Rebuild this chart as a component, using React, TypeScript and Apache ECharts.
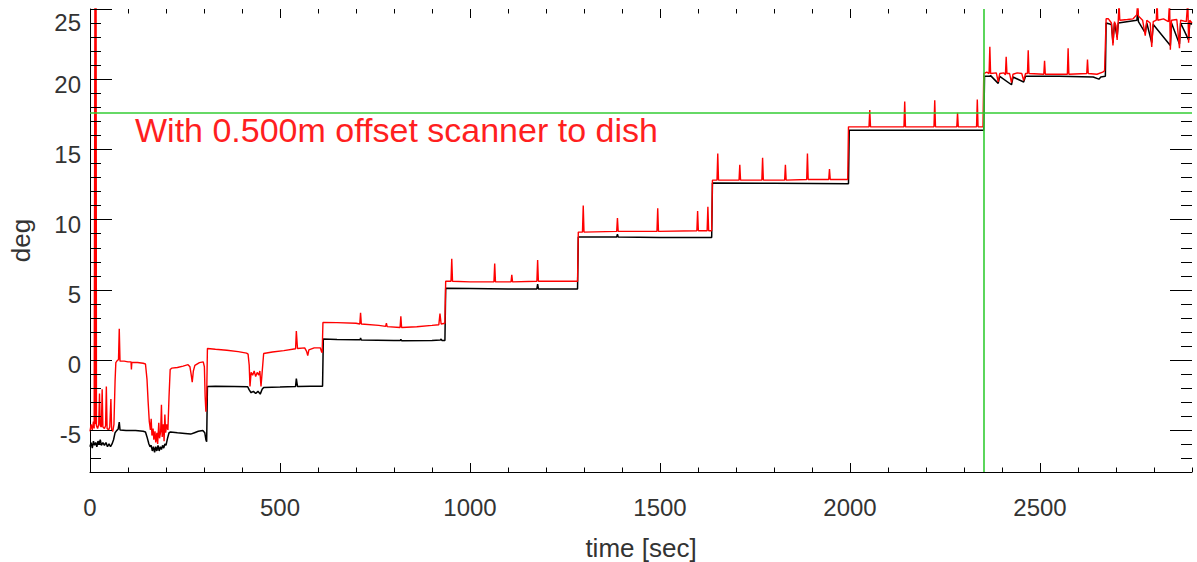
import React, { useEffect, useRef } from 'react';
import * as echarts from 'echarts';

// ---- axis setup ----
const X_MIN = 0;
const X_MAX = 2900;
const Y_MIN = -8;
const Y_MAX = 25;
const xMajorTicks = [0, 500, 1000, 1500, 2000, 2500];
const xMinorStep = 100;
const yMajorTicks = [-5, 0, 5, 10, 15, 20, 25];
const yMinorStep = 1;
const xTitle = 'time [sec]';
const yTitle = 'deg';
const annotation = 'With 0.500m offset scanner to dish';

// ---- reference (green) lines ----
const refDeg = 17.57;
const refTime = 2353;

// ---- black trace [time sec, deg] ----
const blackData: [number, number][] = [
  [0, -6.2], [3, -5.9], [6, -6.3], [9, -5.8], [12, -6.1], [15, -5.9], [18, -6.2], [21, -5.8], [24, -6.0], [27, -5.7],
  [30, -6.1], [34, -5.9], [38, -6.1], [42, -5.9], [46, -6.2], [50, -6.0], [54, -6.2], [58, -6.0], [62, -5.7], [66, -5.2],
  [70, -5.05], [74, -4.95], [77, -4.45], [79, -5.0], [95, -5.05], [120, -5.05], [140, -5.1], [146, -5.15], [150, -5.5],
  [155, -6.0], [158, -6.2], [161, -6.1], [164, -6.5], [167, -6.2], [170, -6.6], [173, -6.2], [176, -6.5], [179, -6.1],
  [182, -6.5], [185, -6.2], [188, -6.4], [191, -6.1], [194, -6.3], [197, -6.0], [200, -6.1], [204, -5.6], [208, -5.2],
  [212, -5.15], [230, -5.2], [250, -5.25], [265, -5.3], [275, -5.2], [285, -5.1], [297, -5.05], [302, -5.2], [305, -5.7],
  [307, -5.85], [309, -1.9],
  [330, -1.88], [380, -1.9], [415, -1.92], [419, -2.15], [424, -2.35], [430, -2.25], [436, -2.4], [442, -2.25], [448, -2.45],
  [453, -2.1], [457, -1.97], [500, -1.95], [541, -1.9], [543, -1.35], [546, -1.9], [580, -1.88], [612, -1.88], [614, 1.48],
  [650, 1.45], [700, 1.42], [711, 1.42], [712, 1.55], [714, 1.4], [800, 1.38], [817, 1.38], [818, 1.46], [820, 1.36],
  [900, 1.38], [922, 1.4], [924, 1.48], [926, 1.38], [934, 1.38], [936, 5.1],
  [1000, 5.08], [1100, 5.05], [1176, 5.05], [1178, 5.4], [1180, 5.05], [1283, 5.05], [1285, 8.75],
  [1386, 8.75], [1388, 8.95], [1390, 8.75], [1500, 8.72], [1636, 8.72], [1638, 12.6],
  [1800, 12.58], [1996, 12.55], [1998, 16.35],
  [2200, 16.35], [2352, 16.35], [2354, 20.2],
  [2366, 20.2], [2370, 20.25], [2390, 19.7], [2394, 20.2], [2425, 19.6], [2429, 20.15], [2457, 19.8], [2462, 20.2],
  [2550, 20.2], [2640, 20.15], [2655, 20.0], [2660, 20.15], [2672, 20.2], [2674, 24.0],
  [2688, 23.9], [2692, 22.6], [2696, 24.0], [2703, 23.0], [2706, 24.0], [2755, 24.2], [2757, 24.9], [2759, 24.1],
  [2777, 23.3], [2781, 24.0], [2794, 22.6], [2798, 23.9], [2843, 22.4], [2846, 24.0], [2867, 22.5], [2870, 24.0],
  [2891, 22.8], [2894, 24.0], [2900, 23.9],
];

// ---- red trace [time sec, deg] ----
const redData: [number, number][] = [
  [0, -5.1], [3, -4.6], [6, -5.0], [9, -4.4], [11, -4.9], [13, 26], [14, -4.6], [16, 26], [17, -4.7], [20, -4.9],
  [23, -4.6], [25, -2.4], [27, -4.7], [30, -4.8], [32, -2.1], [34, -4.8], [38, -4.9], [41, -4.7], [43, -1.9], [45, -4.9],
  [49, -5.0], [52, -4.8], [55, -2.8], [57, -5.0], [60, -5.1], [63, -4.6], [66, -1.5], [68, -0.2], [72, -0.05], [75, 0.0],
  [77, 2.2], [79, -0.1], [90, -0.1], [100, -0.15], [108, -0.15], [109, -0.7], [110, -0.2], [125, -0.2], [140, -0.25],
  [146, -0.3], [150, -1.4], [153, -3.0], [156, -4.4], [159, -5.0], [161, -4.2], [163, -5.4], [166, -4.9], [168, -5.7],
  [171, -5.1], [173, -5.9], [176, -5.2], [178, -6.0], [181, -4.5], [183, -5.6], [186, -5.1], [188, -3.2], [190, -5.5],
  [193, -4.6], [195, -5.8], [197, -3.9], [199, -5.2], [202, -4.6], [205, -5.0], [208, -2.6], [211, -0.7], [215, -0.6],
  [230, -0.55], [245, -0.45], [258, -0.35], [263, -0.5], [266, -1.0], [269, -1.6], [272, -0.8], [276, -0.4], [288, -0.2],
  [298, -0.15], [301, -0.5], [303, -2.6], [305, -3.7], [307, -2.7], [309, 0.8],
  [330, 0.75], [360, 0.68], [390, 0.58], [412, 0.47], [416, 0.4], [419, -0.4], [421, -1.9], [424, -0.9], [428, -1.1],
  [432, -0.8], [436, -1.2], [440, -0.9], [444, -1.1], [447, -0.8], [450, -1.9], [453, -0.9], [457, 0.45], [480, 0.55],
  [510, 0.65], [541, 0.78], [543, 2.05], [546, 0.8], [565, 0.85], [570, 0.6], [573, 0.3], [576, 0.7], [590, 0.85],
  [606, 0.85], [609, 0.6], [611, 0.5], [613, 2.66],
  [650, 2.65], [700, 2.6], [710, 2.55], [712, 3.35], [714, 2.55], [760, 2.45], [778, 2.38], [780, 2.6], [782, 2.36],
  [816, 2.3], [818, 3.1], [820, 2.3], [860, 2.35], [900, 2.45], [918, 2.5], [921, 3.3], [924, 2.55], [934, 2.6], [936, 5.6],
  [950, 5.6], [952, 7.2], [954, 5.6], [1000, 5.55], [1063, 5.55], [1065, 6.85], [1067, 5.55], [1108, 5.55], [1110, 6.05],
  [1112, 5.55], [1176, 5.6], [1178, 7.1], [1180, 5.6], [1283, 5.6], [1285, 9.1],
  [1296, 9.1], [1298, 11.0], [1300, 9.1], [1386, 9.15], [1388, 10.1], [1390, 9.15], [1492, 9.15], [1494, 10.8],
  [1496, 9.15], [1597, 9.2], [1599, 10.6], [1601, 9.2], [1624, 9.2], [1626, 10.9], [1628, 9.2], [1636, 9.2], [1638, 12.8],
  [1650, 12.8], [1652, 14.7], [1654, 12.8], [1708, 12.8], [1710, 13.9], [1712, 12.8], [1768, 12.8], [1770, 14.4],
  [1772, 12.8], [1828, 12.8], [1830, 13.9], [1832, 12.8], [1886, 12.85], [1888, 14.7], [1890, 12.85], [1944, 12.85],
  [1946, 13.6], [1948, 12.85], [1994, 12.85], [1996, 16.6],
  [2050, 16.6], [2052, 17.8], [2054, 16.6], [2142, 16.6], [2144, 18.4], [2146, 16.6], [2221, 16.6], [2223, 18.5],
  [2225, 16.6], [2281, 16.6], [2283, 17.6], [2285, 16.6], [2333, 16.6], [2335, 18.55], [2337, 16.6], [2350, 16.6],
  [2352, 20.4],
  [2360, 20.5], [2366, 20.4], [2368, 22.3], [2370, 20.4], [2385, 20.45], [2390, 19.8], [2394, 20.4], [2405, 20.45],
  [2409, 20.3], [2411, 21.6], [2413, 20.4], [2420, 20.4], [2425, 19.75], [2429, 20.35], [2440, 20.45], [2452, 20.4],
  [2457, 19.9], [2462, 20.4], [2467, 20.4], [2469, 22.05], [2471, 20.4], [2510, 20.35], [2512, 21.3], [2514, 20.35],
  [2572, 20.35], [2574, 22.2], [2576, 20.35], [2623, 20.4], [2625, 21.4], [2627, 20.4], [2650, 20.35], [2665, 20.5],
  [2670, 20.6], [2674, 24.3],
  [2680, 24.3], [2688, 24.0], [2692, 22.4], [2696, 24.1], [2700, 23.8], [2703, 22.8], [2706, 24.2], [2708, 25.5],
  [2710, 24.2], [2730, 24.25], [2745, 24.3], [2755, 24.6], [2757, 25.6], [2759, 24.5], [2770, 24.2], [2777, 23.1],
  [2781, 24.2], [2790, 24.0], [2794, 22.3], [2798, 24.1], [2806, 24.2], [2808, 25.6], [2810, 24.2], [2825, 24.3],
  [2838, 24.1], [2841, 25.6], [2843, 22.1], [2846, 24.2], [2860, 24.25], [2867, 22.2], [2870, 24.2], [2885, 24.1],
  [2889, 25.6], [2891, 22.6], [2894, 24.2], [2900, 24.0],
];

const FONT = 'Liberation Sans';
const TEXT = '#333333';

// tick marks drawn on all four sides (inside), [axis 0=x / 1=y, value, isMajor]
function buildTickItems(): [number, number, number][] {
  const items: [number, number, number][] = [];
  for (let v = X_MIN; v <= X_MAX; v += xMinorStep) {
    items.push([0, v, xMajorTicks.includes(v) ? 1 : 0]);
  }
  for (let v = Y_MIN; v <= Y_MAX; v += yMinorStep) {
    items.push([1, v, yMajorTicks.includes(v) ? 1 : 0]);
  }
  return items;
}

export default function App() {
  const ref = useRef<HTMLDivElement>(null);

  useEffect(() => {
    document.body.style.margin = '0';
    const chart = echarts.init(ref.current as HTMLDivElement, null, { renderer: 'svg' });

    const tickItems = buildTickItems();

    chart.setOption({
      animation: false,
      backgroundColor: '#ffffff',
      grid: { left: 90, top: 9, width: 1102, height: 463, containLabel: false, outerBoundsMode: 'none' },
      xAxis: {
        type: 'value',
        min: X_MIN,
        max: X_MAX,
        interval: 500,
        position: 'bottom',
        axisLine: { show: true, onZero: false, lineStyle: { color: '#000', width: 1 } },
        splitLine: { show: false },
        axisTick: { show: false },
        axisLabel: {
          show: true,
          customValues: xMajorTicks,
          margin: 23,
          fontSize: 24,
          color: TEXT,
          fontFamily: FONT,
          formatter: (v: number) => String(v),
        },
        name: xTitle,
        nameLocation: 'middle',
        nameGap: 63,
        nameTextStyle: { fontSize: 26, color: TEXT, fontFamily: FONT },
      },
      yAxis: {
        type: 'value',
        min: Y_MIN,
        max: Y_MAX,
        interval: 1,
        position: 'left',
        axisLine: { show: true, onZero: false, lineStyle: { color: '#000', width: 1 } },
        splitLine: { show: false },
        axisTick: { show: false },
        axisLabel: {
          show: true,
          customValues: yMajorTicks,
          margin: 9,
          fontSize: 24,
          color: TEXT,
          fontFamily: FONT,
          formatter: (v: number) => (v === Y_MAX ? `{top|${v}}` : `{n|${v}}`),
          rich: {
            n: { fontSize: 24, color: TEXT, fontFamily: FONT, padding: [10, 0, 0, 0] },
            top: { fontSize: 24, color: TEXT, fontFamily: FONT, padding: [26, 0, 0, 0] },
          },
        },
        name: yTitle,
        nameLocation: 'middle',
        nameGap: 56,
        nameTextStyle: { fontSize: 26, color: TEXT, fontFamily: FONT },
      },
      series: [
        {
          name: 'black',
          type: 'line',
          data: blackData,
          showSymbol: false,
          clip: true,
          lineStyle: { color: '#000000', width: 1.5 },
          z: 2,
        },
        {
          name: 'red',
          type: 'line',
          data: redData,
          showSymbol: false,
          clip: true,
          lineStyle: { color: '#ff0000', width: 1.4 },
          z: 3,
          markLine: {
            silent: true,
            symbol: ['none', 'none'],
            label: { show: false },
            lineStyle: { color: '#33cc33', width: 1.6, type: 'solid' },
            data: [{ yAxis: refDeg }, { xAxis: refTime }],
          },
        },
        {
          name: 'frame ticks',
          type: 'custom',
          silent: true,
          clip: false,
          z: 5,
          data: tickItems,
          encode: { x: 1, y: 1 },
          renderItem: (params: any, api: any) => {
            const axis = api.value(0);
            const v = api.value(1);
            const major = api.value(2) === 1;
            const cs = params.coordSys;
            const left = cs.x;
            const right = cs.x + cs.width;
            const top = cs.y;
            const bottom = cs.y + cs.height;
            const style = { stroke: '#000', lineWidth: 1 };
            if (axis === 0) {
              const px = Math.round(api.coord([v, Y_MIN])[0]) + 0.5;
              const len = major ? 9 : 4.5;
              return {
                type: 'group',
                children: [
                  { type: 'line', shape: { x1: px, y1: bottom, x2: px, y2: bottom - len }, style },
                  { type: 'line', shape: { x1: px, y1: top, x2: px, y2: top + len }, style },
                ],
              };
            }
            const py = Math.round(api.coord([X_MIN, v])[1]) + 0.5;
            const len = major ? 22 : 11;
            return {
              type: 'group',
              children: [
                { type: 'line', shape: { x1: left, y1: py, x2: left + len, y2: py }, style },
                { type: 'line', shape: { x1: right, y1: py, x2: right - len, y2: py }, style },
              ],
            };
          },
        },
      ],
      graphic: [
        {
          type: 'text',
          x: 135,
          y: 130,
          z: 10,
          style: {
            text: annotation,
            fontSize: 34,
            fontFamily: FONT,
            fill: '#ff1f1f',
            verticalAlign: 'middle',
            align: 'left',
          },
        },
      ],
    });

    return () => {
      chart.dispose();
    };
  }, []);

  return <div ref={ref} style={{ width: 1197, height: 562 }} />;
}
